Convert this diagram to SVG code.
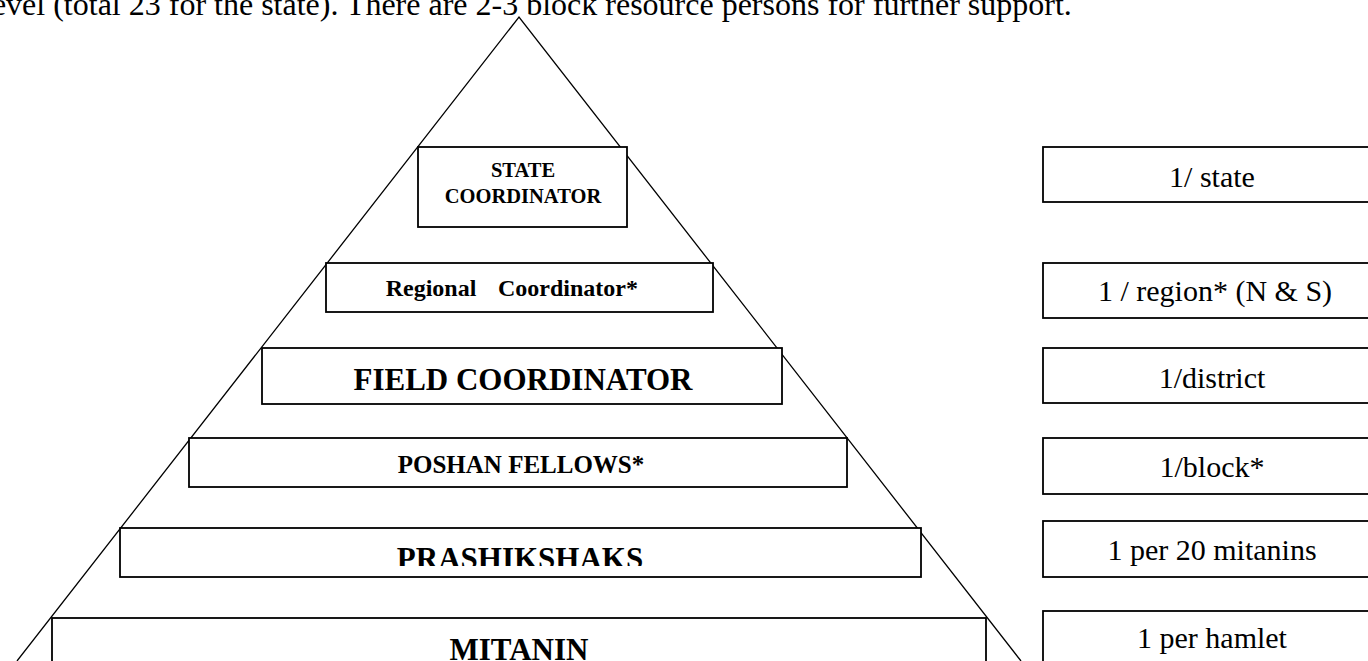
<svg xmlns="http://www.w3.org/2000/svg" width="1368" height="661" viewBox="0 0 1368 661">
  <style>
    .box { fill: #fff; stroke: #000; stroke-width: 1.8; }
    .edge { fill: none; stroke: #000; stroke-width: 1.3; }
    .lbl { font-family: "Liberation Serif", "Times New Roman", serif; font-weight: bold; fill: #000; text-anchor: middle; }
    .ratio { font-family: "Liberation Serif", "Times New Roman", serif; font-size: 30px; fill: #000; text-anchor: middle; }
    .body { font-family: "Liberation Serif", "Times New Roman", serif; font-size: 32px; fill: #000; }
  </style>
  <defs>
    <clipPath id="clip-prashikshaks">
      <rect x="120" y="529" width="800" height="37"/>
    </clipPath>
  </defs>
  <rect width="1368" height="661" fill="#fff"/>

  <!-- running text above the chart -->
  <text class="body" x="-17" y="15">level (total 23 for the state). There are 2-3 block resource persons for further support.</text>

  <!-- pyramid outline -->
  <g id="connectors">
    <polyline class="edge" points="17,661 519,17 1021,661"/>
  </g>

  <!-- pyramid tiers -->
  <g id="state-coordinator">
    <rect class="box" x="418" y="147" width="209" height="80"/>
    <text class="lbl" x="523" y="177" font-size="20.5">STATE</text>
    <text class="lbl" x="523" y="203" font-size="20.5">COORDINATOR</text>
  </g>
  <g id="regional-coordinator">
    <rect class="box" x="326" y="263" width="387" height="49"/>
    <text class="lbl" font-size="24" y="296"><tspan x="431" >Regional</tspan><tspan x="568">Coordinator*</tspan></text>
  </g>
  <g id="field-coordinator">
    <rect class="box" x="262" y="348" width="520" height="56"/>
    <text class="lbl" x="523" y="390" font-size="31">FIELD COORDINATOR</text>
  </g>
  <g id="poshan-fellows">
    <rect class="box" x="189" y="438" width="658" height="49"/>
    <text class="lbl" x="521" y="473" font-size="25">POSHAN FELLOWS*</text>
  </g>
  <g id="prashikshaks">
    <rect class="box" x="120" y="528" width="801" height="49"/>
    <text class="lbl" x="520" y="569" font-size="31" clip-path="url(#clip-prashikshaks)">PRASHIKSHAKS</text>
  </g>
  <g id="mitanin">
    <rect class="box" x="52" y="618" width="934" height="60"/>
    <text class="lbl" x="519" y="660" font-size="31">MITANIN</text>
  </g>

  <!-- staffing ratios -->
  <g id="ratio-state">
    <rect class="box" x="1043" y="147" width="340" height="55"/>
    <text class="ratio" x="1212" y="187">1/ state</text>
  </g>
  <g id="ratio-region">
    <rect class="box" x="1043" y="263" width="340" height="55"/>
    <text class="ratio" x="1215" y="301">1 / region* (N &amp; S)</text>
  </g>
  <g id="ratio-district">
    <rect class="box" x="1043" y="348" width="340" height="55"/>
    <text class="ratio" x="1212" y="388">1/district</text>
  </g>
  <g id="ratio-block">
    <rect class="box" x="1043" y="438" width="340" height="56"/>
    <text class="ratio" x="1212" y="477">1/block*</text>
  </g>
  <g id="ratio-prashikshak">
    <rect class="box" x="1043" y="521" width="340" height="56"/>
    <text class="ratio" x="1212" y="560">1 per 20 mitanins</text>
  </g>
  <g id="ratio-mitanin">
    <rect class="box" x="1043" y="611" width="340" height="60"/>
    <text class="ratio" x="1212" y="648">1 per hamlet</text>
  </g>
</svg>
